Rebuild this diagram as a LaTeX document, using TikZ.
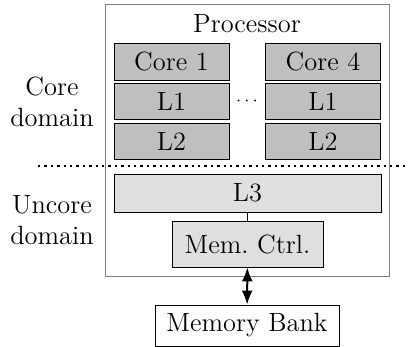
\documentclass[tikz,border=0pt]{standalone}
\usepackage{tikz}
\usetikzlibrary{arrows.meta, positioning, calc}

\tikzset{
	boxfont/.style={font=\fontsize{13.2}{15.5}\selectfont},
	cachebox/.style={draw, fill=gray!50, boxfont, minimum width=57.5pt, minimum height=18pt, inner sep=0pt},
	uncorebox/.style={draw, fill=gray!25, boxfont, inner sep=0pt},
}

\begin{document}
\begin{tikzpicture}[x=0.5pt, y=-0.5pt]
			\useasboundingbox (0, 0) rectangle (409, 347);
			
			\node[draw=gray, minimum width=142pt, minimum height=136pt] (processor) at (247, 140) {};
			\node[boxfont] (proclabel) at (247, 24) {Processor};
			
			\node[cachebox, minimum height=18.5pt] (core1) at (171.5, 61.5) {Core 1};
			\node[cachebox] (l1a) at (171.5, 101) {L1};
			\node[cachebox] (l2a) at (171.5, 141) {L2};
			
			\node[cachebox, minimum height=18.5pt] (core4) at (323, 61.5) {Core 4};
			\node[cachebox] (l1b) at (323, 101) {L1};
			\node[cachebox] (l2b) at (323, 141) {L2};
			
			\node[font=\small] (dots) at (247, 101) {$\cdots$};
			
			\node[uncorebox, minimum width=133.5pt, minimum height=19pt] (l3) at (247.5, 193) {L3};
			\node[uncorebox, minimum width=75.5pt, minimum height=23pt] (memctrl) at (247.5, 244) {Mem.\ Ctrl.};
			\node[draw, boxfont, minimum width=92pt, minimum height=20.5pt, inner sep=0pt] (membank) at (247, 325.5) {Memory Bank};
			
			\node[boxfont, align=center] (coredomain) at (52, 102) {Core\\domain};
			\node[boxfont, align=center] (uncoredomain) at (52, 220) {Uncore\\domain};
			
			\coordinate (sepleft) at (38, 166);
			\coordinate (sepright) at (409, 166);
			\draw[dotted, line width=1.2pt] (sepleft) -- (sepright);
			
			\draw (l3) -- (memctrl);
			\draw[{Latex[length=7pt, width=5.5pt]}-{Latex[length=7pt, width=5.5pt]}, line width=1pt] (memctrl) -- (membank);
		\end{tikzpicture}
\end{document}
